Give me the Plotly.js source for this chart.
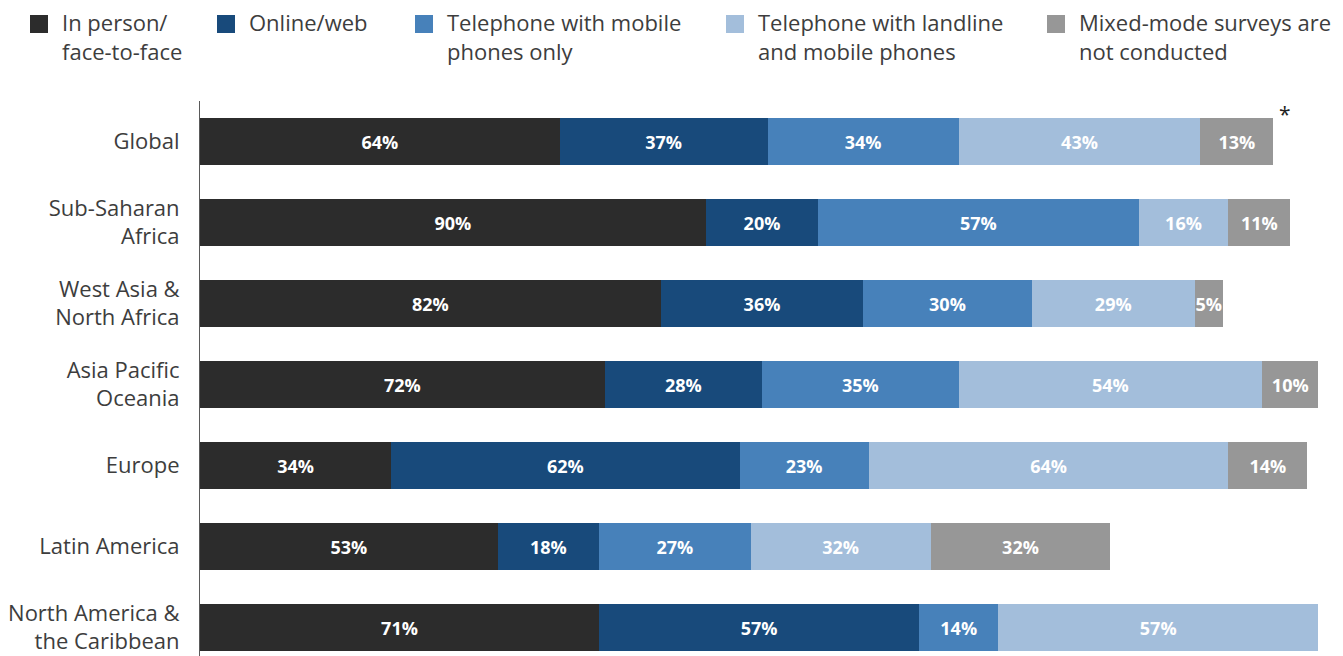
<!DOCTYPE html>
<html>
<head>
<meta charset="utf-8">
<script src="https://cdn.plot.ly/plotly-3.0.1.min.js"></script>
<style>
html,body{margin:0;padding:0;background:#ffffff;overflow:hidden;}
#chart{width:1343px;height:656px;}
</style>
</head>
<body>
<div id="chart"></div>
<script>
// ---- data ----
var categories = ['Global', 'Sub-Saharan<br>Africa', 'West Asia &<br>North Africa', 'Asia Pacific<br>Oceania', 'Europe', 'Latin America', 'North America &<br>the Caribbean'];
var seriesNames = ['In person/<br>face-to-face', 'Online/web', 'Telephone with mobile<br>phones only', 'Telephone with landline<br>and mobile phones', 'Mixed-mode surveys are<br>not conducted'];
var inPerson       = [64, 90, 82, 72, 34, 53, 71];
var onlineWeb      = [37, 20, 36, 28, 62, 18, 57];
var mobileOnly     = [34, 57, 30, 35, 23, 27, 14];
var landlineMobile = [43, 16, 29, 54, 64, 32, 57];
var notConducted   = [13, 11, 5, 10, 14, 32, null];
var footnoteMark = '*';

// ---- styles / layout ----
var colors = ['#2c2c2c', '#184a7b', '#4781ba', '#a3bedb', '#979797'];
var W = 1343, H = 656;
var M = {l: 200, r: 0, t: 101, b: 0};
var plotW = W - M.l - M.r, plotH = H - M.t - M.b;
var rowPitch = 81;
function px2x(px) { return (px - M.l) / plotW; }
function py2y(py) { return (H - M.b - py) / plotH; }

var seriesValues = [inPerson, onlineWeb, mobileOnly, landlineMobile, notConducted];
var traces = seriesValues.map(function (vals, i) {
  return {
    type: 'bar',
    orientation: 'h',
    name: seriesNames[i],
    y: categories,
    x: vals,
    marker: {color: colors[i], line: {width: 0}},
    text: vals.map(function (v) { return v == null ? '' : v + '%'; }),
    textposition: 'inside',
    insidetextanchor: 'middle',
    constraintext: 'none',
    textangle: 0,
    textfont: {family: 'Open Sans', size: 18, color: '#ffffff', weight: 700},
    hoverinfo: 'none',
    showlegend: false
  };
});

// manual legend (squares + labels)
var legendSquareX = [30, 217, 415, 726, 1047];
var legendSquareTop = 15, sq = 18, textGap = 30, legendTextTop = 5;
var shapes = [], annotations = [];
seriesNames.forEach(function (n, i) {
  shapes.push({
    type: 'rect', xref: 'paper', yref: 'paper', layer: 'above',
    x0: px2x(legendSquareX[i]), x1: px2x(legendSquareX[i] + sq),
    y0: py2y(legendSquareTop + sq), y1: py2y(legendSquareTop),
    fillcolor: colors[i], line: {width: 0}
  });
  annotations.push({
    xref: 'paper', yref: 'paper', showarrow: false,
    x: px2x(legendSquareX[i] + textGap), y: py2y(legendTextTop),
    xanchor: 'left', yanchor: 'top', align: 'left',
    text: n,
    font: {family: 'Open Sans', size: 22, color: '#3d3d3d'}
  });
});
// footnote asterisk after Global bar
var globalTotal = inPerson[0] + onlineWeb[0] + mobileOnly[0] + landlineMobile[0] + notConducted[0];
annotations.push({
  xref: 'x', yref: 'y', x: globalTotal, y: categories[0],
  xanchor: 'left', yanchor: 'bottom', xshift: 4, yshift: 12,
  showarrow: false, text: footnoteMark,
  font: {family: 'Open Sans', size: 21, color: '#222222'}
});

var layout = {
  width: W, height: H,
  margin: M,
  paper_bgcolor: '#ffffff',
  plot_bgcolor: '#ffffff',
  barmode: 'stack',
  bargap: 0.43,
  showlegend: false,
  xaxis: {
    range: [0, plotW / 5.62],
    visible: false,
    fixedrange: true
  },
  yaxis: {
    type: 'category',
    categoryorder: 'array',
    categoryarray: categories,
    range: [-0.5 + plotH / rowPitch, -0.5],
    showline: true, linecolor: '#5a5a5a', linewidth: 1,
    showgrid: false, zeroline: false,
    ticks: '',
    ticklabelstandoff: 15,
    tickfont: {family: 'Open Sans', size: 22, color: '#3d3d3d'},
    fixedrange: true
  },
  shapes: shapes,
  annotations: annotations
};

Plotly.newPlot('chart', traces, layout, {displayModeBar: false, staticPlot: true});
</script>
</body>
</html>
